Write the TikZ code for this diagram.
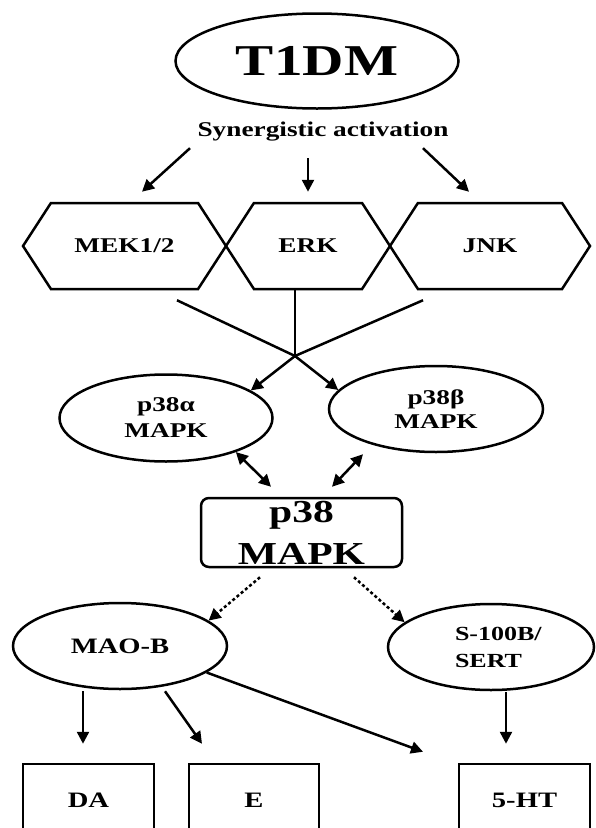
\documentclass[tikz,border=0pt]{standalone}
\usepackage{fontspec}
\setmainfont{Liberation Serif}[FakeStretch=1.3]
\usepackage{tikz}
\usetikzlibrary{shapes.geometric,shapes.symbols,arrows.meta,calc}
\newcommand{\fsz}[2]{\fontsize{#1}{#2}\selectfont\bfseries}

\begin{document}
\begin{tikzpicture}[x=1pt, y=-1pt, line width=2.5pt, >={Triangle[length=12pt,width=12pt]},
    oval/.style={ellipse, draw, inner sep=0pt},
    hexa/.style={signal, signal to=east and west, signal pointer angle=114,
      draw, minimum height=86pt, inner sep=0pt, font=\fsz{21}{25}},
    tag/.style={rectangle, draw, minimum width=131pt, minimum height=72pt,
      inner sep=0pt, font=\fsz{22}{26}},
    dots/.style={->, dash pattern=on 3pt off 2.5pt}]
  \useasboundingbox (0,0) rectangle (595,828);
  % disease and the three kinases
  \node[oval, minimum width=283pt, minimum height=95pt, font=\fsz{44}{48}] (t1dm) at (317,61) {T1DM};
  \node[font=\fsz{21}{25}] (syn) at (323,132) {Synergistic activation};
  \node[hexa, minimum width=203pt] (mek) at (124.5,246) {MEK1/2};
  \node[hexa, minimum width=164pt] (erk) at (308,246) {ERK};
  \node[hexa, minimum width=200pt] (jnk) at (490,246) {JNK};
  \draw[->] ($(syn.south)+(-133,2)$) -- ($(mek.north)+(17.5,-10)$);
  \draw[->] ($(syn.south)+(-15,12)$) -- ($(erk.north)+(0,-10)$);
  \draw[->] ($(syn.south)+(100,2)$) -- ($(jnk.north)+(-21,-10)$);

  % p38 isoforms
  \coordinate (hub) at (295,356);
  \node[oval, minimum width=213pt, minimum height=87pt, align=center, font=\fsz{21}{26}] (p38a) at (166,418) {p38α\\MAPK};
  \node[oval, minimum width=214pt, minimum height=86pt, align=center, font=\fsz{21}{24}] (p38b) at (436,409) {p38β\\MAPK};
  \draw ($(mek.south)+(52.5,10)$) -- (hub);
  \draw (hub |- erk.south) -- (hub);
  \draw ($(jnk.south)+(-67,10)$) -- (hub);
  \draw[->] (hub) -- (p38a.18);
  \draw[->] (hub) -- (p38b.169);

  \node[draw, rounded corners=8pt, minimum width=201pt, minimum height=69pt, inner sep=0pt,
    align=center, font=\fsz{32}{42}] (p38) at (301.5,532.5) {p38\\MAPK};
  \draw[<->] (p38a.-26) -- ($(p38.north)+(-30.5,-10)$);
  \draw[<->] ($(p38b.south)+(-73,1)$) -- ($(p38.north)+(30.5,-10)$);

  % downstream targets
  \node[oval, minimum width=214pt, minimum height=86pt, font=\fsz{22}{26}] (maob) at (120,646) {MAO-B};
  \node[oval, minimum width=206pt, minimum height=86pt, text width=72pt, align=left,
    font=\fsz{20}{27}] (sert) at (491,647) {\mbox{S-100B/}\\\mbox{SERT}};
  \draw[dots] ($(p38.south)+(-41.5,9)$) -- (maob.16);
  \draw[dots] ($(p38.south)+(52.5,9)$) -- (sert.164);

  \node[tag] (da) at (88.5,800) {DA};
  \node[tag, minimum width=130pt] (e) at (254,800) {E};
  \node[tag] (ht) at (524.5,800) {5-HT};
  \draw[->] ($(maob.south)+(-37,1)$) -- ($(da.north)+(-5.5,-19)$);
  \draw[->] ($(maob.south)+(45,1)$) -- ($(e.north)+(-52,-19)$);
  \draw[->] (maob.-17) -- ($(ht.north)+(-101.5,-11)$);
  \draw[->] ($(sert.south)+(15,1)$) -- ($(ht.north)+(-18.5,-19)$);
\end{tikzpicture}
\end{document}
